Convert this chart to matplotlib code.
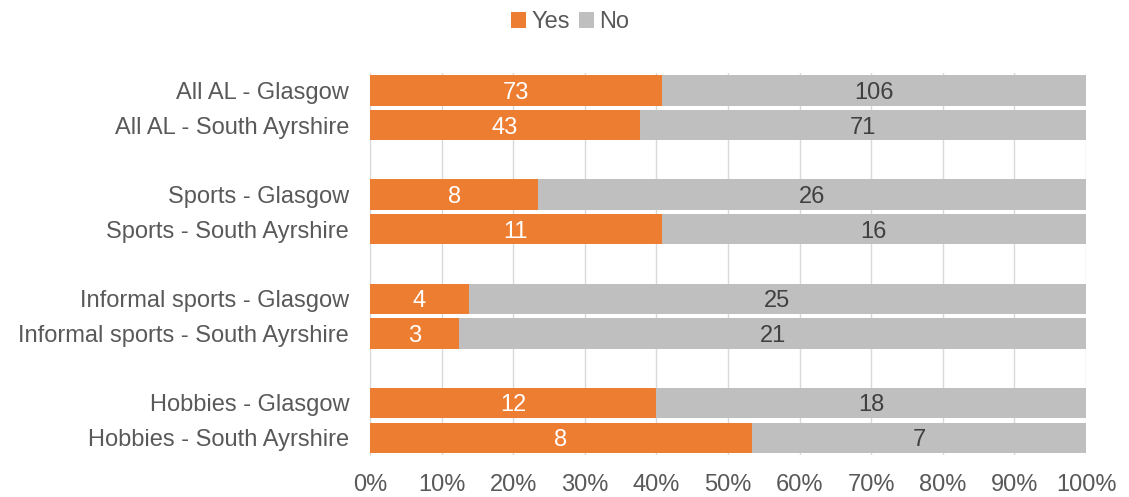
import matplotlib.pyplot as plt
import numpy as np

plt.rcParams['font.family'] = ['Liberation Sans', 'DejaVu Sans']

categories = [
    "All AL - Glasgow", "All AL - South Ayrshire", "",
    "Sports - Glasgow", "Sports - South Ayrshire", "",
    "Informal sports - Glasgow", "Informal sports - South Ayrshire", "",
    "Hobbies - Glasgow", "Hobbies - South Ayrshire",
]
yes_counts = [73, 43, None, 8, 11, None, 4, 3, None, 12, 8]
no_counts = [106, 71, None, 26, 16, None, 25, 21, None, 18, 7]

orange = "#ED7D31"
grey = "#BFBFBF"
text_col = "#595959"
fs = 17

fig = plt.figure(figsize=(11.29, 4.97), dpi=100)
ax = fig.add_axes([0.3277, 0.0845, 0.6343, 0.7685])

pos = np.arange(len(categories))
for i, (y, n) in enumerate(zip(yes_counts, no_counts)):
    if y is None:
        continue
    tot = y + n
    fy = y / tot * 100
    fn = n / tot * 100
    ax.barh(pos[i], fy, height=0.87, color=orange, zorder=3,
            label="Yes" if i == 0 else None)
    ax.barh(pos[i], fn, left=fy, height=0.87, color=grey, zorder=3,
            label="No" if i == 0 else None)
    ax.text(fy / 2, pos[i], str(y), ha="center", va="center_baseline",
            color="white", fontsize=fs, zorder=4)
    ax.text(fy + fn / 2, pos[i], str(n), ha="center", va="center_baseline",
            color="#404040", fontsize=fs, zorder=4)

ax.set_ylim(len(categories) - 0.5, -0.5)
ax.set_xlim(0, 100)
ax.set_yticks(pos)
ax.set_yticklabels(categories, fontsize=fs, color=text_col)
ax.set_xticks(np.arange(0, 101, 10))
ax.set_xticklabels([f"{v}%" for v in range(0, 101, 10)], fontsize=fs, color=text_col)
ax.tick_params(axis="y", length=0, pad=15)
ax.tick_params(axis="x", length=0, pad=14)
ax.grid(axis="x", color="#D9D9D9", linewidth=1, zorder=0)
for s in ["top", "right", "bottom"]:
    ax.spines[s].set_visible(False)
ax.spines["left"].set_color("#D9D9D9")

fig.legend(loc="upper center", bbox_to_anchor=(0.505, 1.02), ncol=2, frameon=False,
           fontsize=fs, handlelength=0.65, handleheight=0.65, handletextpad=0.2,
           columnspacing=0.4, labelcolor=text_col)

fig.savefig("out.png", dpi=100)
